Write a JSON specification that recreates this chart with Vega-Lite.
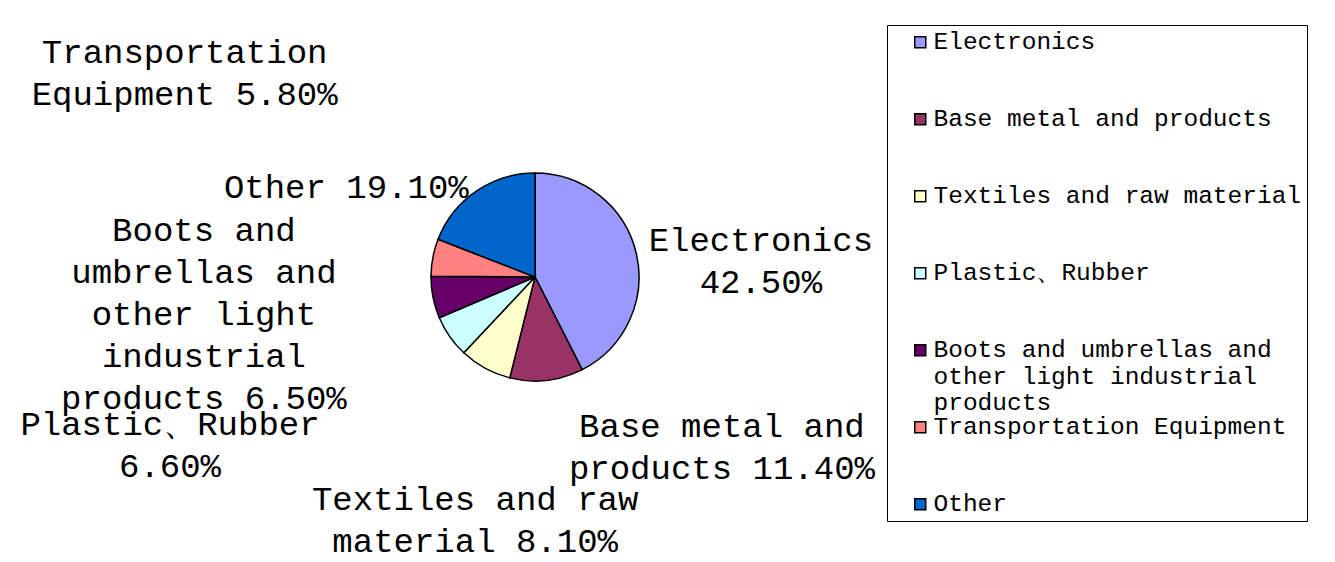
{
  "$schema": "https://vega.github.io/schema/vega-lite/v6.json",
  "width": 1054,
  "height": 534,
  "padding": {"left": 8, "top": 10, "right": 0, "bottom": 0},
  "autosize": {"type": "pad"},
  "background": "white",
  "config": {"view": {"stroke": null}},
  "data": {
    "values": [
      {"Category": "Electronics", "Share": 42.5, "label": "Electronics\n42.50%", "idx": 1},
      {"Category": "Base metal and products", "Share": 11.4, "label": "Base metal and\nproducts 11.40%", "idx": 2},
      {"Category": "Textiles and raw material", "Share": 8.1, "label": "Textiles and raw\nmaterial 8.10%", "idx": 3},
      {"Category": "Plastic、Rubber", "Share": 6.6, "label": "Plastic、Rubber\n6.60%", "idx": 4},
      {"Category": "Boots and umbrellas and other light industrial products", "Share": 6.5, "label": "Boots and\numbrellas and\nother light\nindustrial\nproducts 6.50%", "idx": 5},
      {"Category": "Transportation Equipment", "Share": 5.8, "label": "Transportation\nEquipment 5.80%", "idx": 6},
      {"Category": "Other", "Share": 19.1, "label": "Other 19.10%", "idx": 7}
    ]
  },
  "layer": [
    {
      "mark": {"type": "arc", "outerRadius": 104, "stroke": "black", "strokeWidth": 1.5},
      "encoding": {
        "theta": {"field": "Share", "type": "quantitative", "stack": true},
        "order": {"field": "idx", "type": "quantitative"},
        "color": {
          "field": "Category",
          "type": "nominal",
          "scale": {
            "domain": ["Electronics", "Base metal and products", "Textiles and raw material", "Plastic、Rubber", "Boots and umbrellas and other light industrial products", "Transportation Equipment", "Other"],
            "range": ["#9999FF", "#993366", "#FFFFCC", "#CCFFFF", "#660066", "#FF8080", "#0066CC"]
          },
          "legend": {
            "title": null,
            "orient": "none",
            "legendX": 879,
            "legendY": 15,
            "direction": "vertical",
            "symbolType": "square",
            "symbolSize": 121,
            "symbolStrokeColor": "black",
            "symbolStrokeWidth": 1.5,
            "symbolOffset": 16,
            "labelFont": "Liberation Mono",
            "labelFontSize": 24.5,
            "labelColor": "black",
            "labelLimit": 600,
            "labelLineHeight": 26,
            "labelOffset": 1,
            "labelBaseline": "middle",
            "labelExpr": "length(datum.label) > 40 ? ['Boots and umbrellas and', 'other light industrial', 'products'] : datum.label",
            "padding": 5,
            "strokeColor": "black",
            "fillColor": "white",
            "gridAlign": "all",
            "rowPadding": -2
          }
        }
      }
    },
    {
      "mark": {
        "type": "text",
        "radius": 150,
        "font": "Liberation Mono",
        "fontSize": 34,
        "lineHeight": 42,
        "lineBreak": "\n",
        "align": "center",
        "baseline": "middle",
        "fill": "black",
        "dx": {"expr": "[80, 170, 12, -242, -184, -203, -104][datum.idx - 1]"},
        "dy": {"expr": "[-1, 1, 91, 62, -75, -196, 35][datum.idx - 1]"}
      },
      "encoding": {
        "theta": {"field": "Share", "type": "quantitative", "stack": true},
        "order": {"field": "idx", "type": "quantitative"},
        "detail": {"field": "Category", "type": "nominal"},
        "text": {"field": "label", "type": "nominal"}
      }
    }
  ]
}
